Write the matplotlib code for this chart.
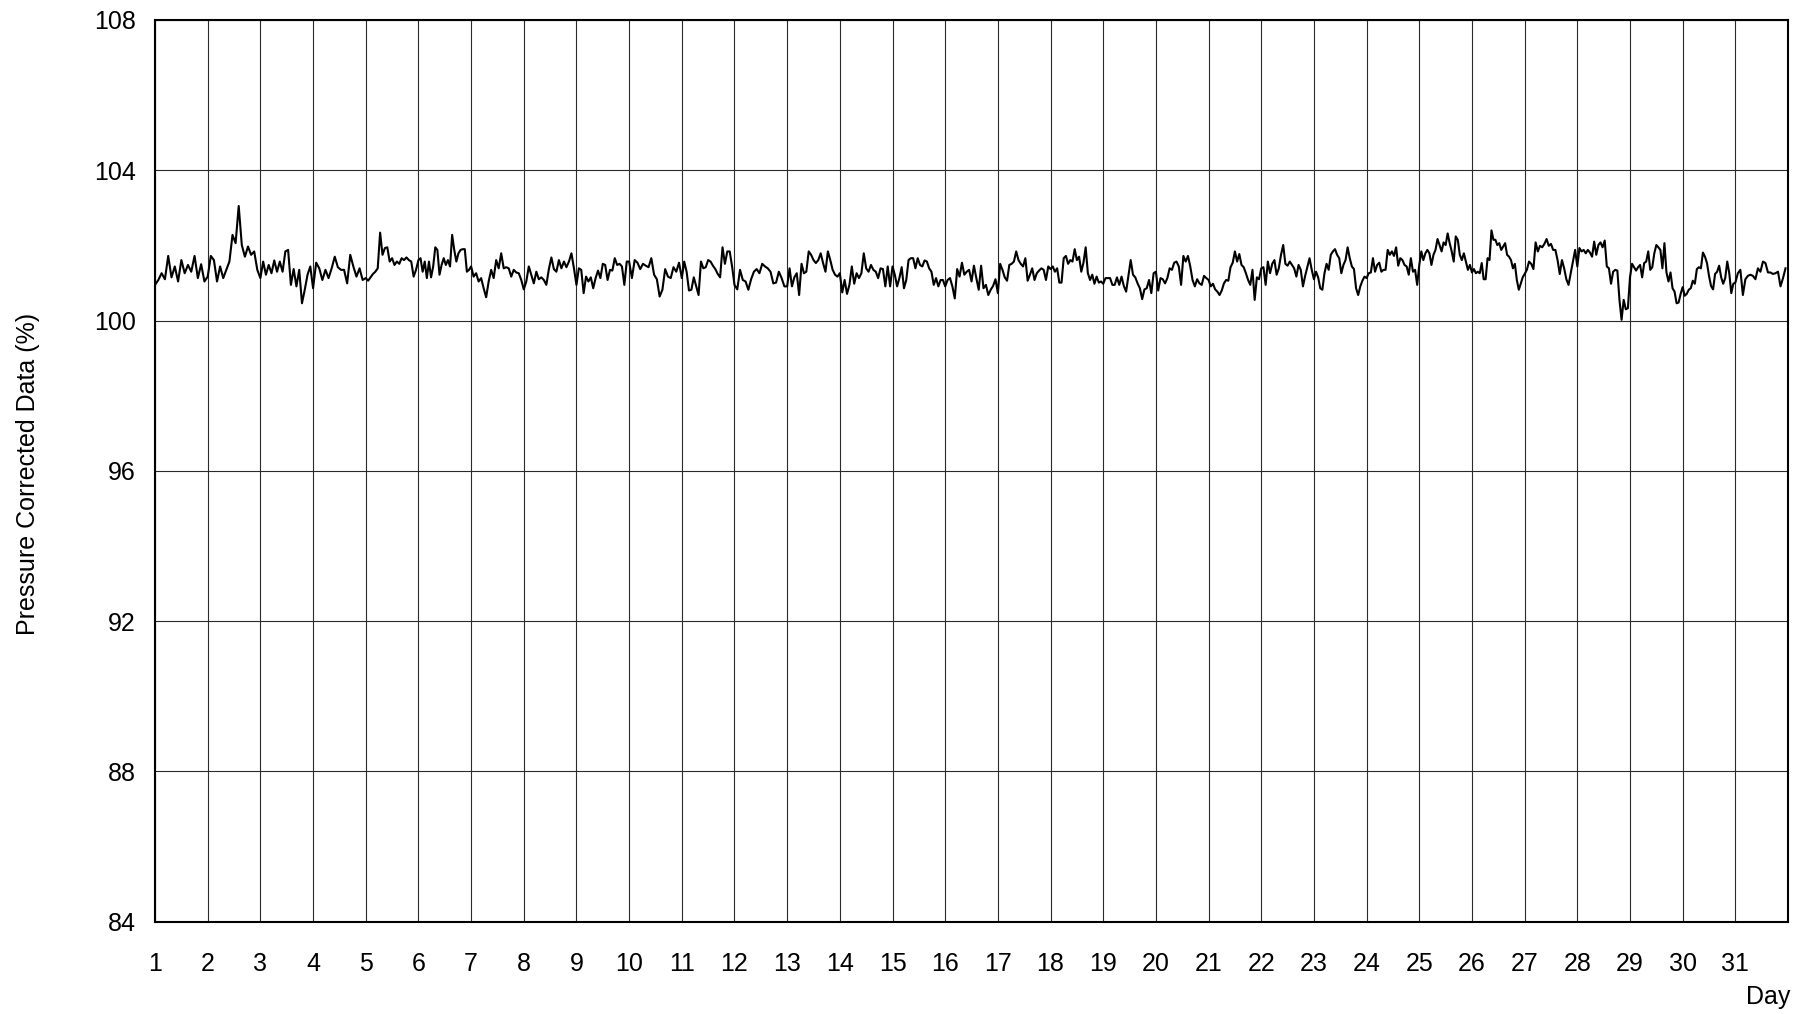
import numpy as np
import matplotlib
matplotlib.use('Agg')
import matplotlib.pyplot as plt

# readings per day, evenly spread through each day (day 1 .. day 31)
day1 = [100.95, 101.08, 101.26, 101.10, 101.72, 101.15, 101.44, 101.04, 101.61, 101.26, 101.48, 101.30, 101.72, 101.13, 101.50, 101.04]
day2 = [101.17, 101.72, 101.61, 101.04, 101.44, 101.13, 101.35, 101.57, 102.28, 102.06, 103.05, 102.01, 101.70, 101.97, 101.75, 101.84, 101.35]
day3 = [101.13, 101.57, 101.22, 101.48, 101.26, 101.60, 101.30, 101.57, 101.30, 101.84, 101.88, 100.95, 101.37, 100.91, 101.35, 100.46, 100.82, 101.22, 101.44]
day4 = [100.86, 101.54, 101.39, 101.08, 101.35, 101.13, 101.39, 101.70, 101.42, 101.35, 101.35, 100.99, 101.75, 101.44, 101.17, 101.39, 101.08]
day5 = [101.13, 101.06, 101.15, 101.24, 101.30, 101.39, 102.34, 101.75, 101.93, 101.95, 101.57, 101.66, 101.48, 101.57, 101.51, 101.66, 101.61, 101.68, 101.61, 101.57, 101.17, 101.35]
day6 = [101.61, 101.66, 101.30, 101.57, 101.13, 101.57, 101.15, 101.44, 101.95, 101.88, 101.22, 101.48, 101.66, 101.48, 101.61, 101.44, 102.28, 101.88, 101.57, 101.79, 101.88, 101.90, 101.90, 101.30, 101.35]
day7 = [101.44, 101.17, 101.26, 101.04, 101.13, 100.86, 100.62, 101.04, 101.35, 101.13, 101.61, 101.39, 101.79, 101.39, 101.42, 101.39, 101.17, 101.35, 101.28, 101.26, 101.08]
day8 = [100.83, 101.04, 101.44, 101.22, 100.99, 101.30, 101.10, 101.15, 101.08, 100.95, 101.37, 101.68, 101.37, 101.30, 101.61, 101.39, 101.57, 101.42, 101.57, 101.79, 101.39]
day9 = [100.95, 101.39, 101.35, 100.73, 101.17, 101.04, 101.15, 100.86, 101.13, 101.33, 101.13, 101.51, 101.48, 101.08, 101.35, 101.33, 101.66, 101.48, 101.51, 101.44, 100.95, 101.57]
day10 = [101.57, 101.13, 101.61, 101.54, 101.37, 101.51, 101.46, 101.42, 101.66, 101.22, 101.10, 100.64, 100.82, 101.37, 101.17, 101.13, 101.42, 101.30, 101.54]
day11 = [101.13, 101.57, 101.30, 100.80, 100.82, 101.15, 100.91, 100.68, 101.57, 101.39, 101.42, 101.61, 101.57, 101.46, 101.37, 101.24, 101.15, 101.95, 101.51, 101.84, 101.84, 101.44]
day12 = [100.95, 100.83, 101.35, 101.08, 101.04, 100.82, 101.10, 101.30, 101.37, 101.26, 101.51, 101.44, 101.39, 101.30, 100.99, 101.01, 101.30, 101.13, 100.91]
day13 = [100.91, 101.39, 100.91, 101.15, 101.26, 100.68, 101.51, 101.26, 101.30, 101.84, 101.75, 101.61, 101.53, 101.61, 101.79, 101.53, 101.30, 101.84, 101.61, 101.35, 101.22, 101.17]
day14 = [101.26, 100.75, 101.08, 100.71, 100.95, 101.44, 100.98, 101.26, 101.13, 101.26, 101.79, 101.39, 101.30, 101.48, 101.35, 101.30, 101.13, 101.39, 101.37, 100.91, 101.44, 100.91]
day15 = [101.44, 101.22, 100.91, 101.13, 101.42, 100.86, 101.08, 101.61, 101.66, 101.66, 101.39, 101.66, 101.48, 101.44, 101.60, 101.57, 101.39, 101.30, 100.95, 101.13, 100.91, 101.08, 101.08]
day16 = [100.91, 101.08, 101.13, 100.91, 100.59, 101.37, 101.17, 101.54, 101.22, 101.30, 101.35, 101.04, 101.46, 101.13, 100.82, 101.46, 100.86, 100.95, 100.68, 100.82, 100.92, 101.10]
day17 = [100.73, 101.51, 101.35, 101.15, 101.06, 101.48, 101.51, 101.57, 101.84, 101.61, 101.51, 101.44, 101.66, 101.06, 101.22, 101.39, 101.08, 101.26, 101.33, 101.39, 101.35, 101.08, 101.44]
day18 = [101.37, 101.44, 101.30, 101.39, 101.01, 101.01, 101.66, 101.72, 101.51, 101.61, 101.57, 101.90, 101.61, 101.70, 101.30, 101.54, 101.95, 101.26, 101.08, 101.22, 100.98, 101.17, 101.01, 101.04]
day19 = [100.98, 101.13, 101.13, 101.13, 100.95, 100.95, 101.15, 100.95, 101.17, 100.92, 100.77, 101.19, 101.61, 101.22, 101.15, 100.99, 100.86, 100.57, 100.83, 100.86, 101.08, 100.73, 101.26]
day20 = [101.30, 100.80, 101.13, 101.10, 100.99, 101.13, 101.39, 101.35, 101.54, 101.57, 101.44, 100.95, 101.72, 101.57, 101.72, 101.44, 101.08, 100.91, 101.10, 100.99, 100.95, 101.19, 101.13]
day21 = [101.08, 100.91, 100.98, 100.83, 100.77, 100.68, 100.80, 100.99, 101.08, 101.06, 101.42, 101.54, 101.84, 101.57, 101.77, 101.48, 101.42, 101.26, 101.08, 100.95, 101.35, 100.55, 101.15, 101.10]
day22 = [101.39, 101.42, 100.95, 101.57, 101.26, 101.51, 101.61, 101.22, 101.39, 101.75, 102.01, 101.51, 101.46, 101.57, 101.48, 101.39, 101.17, 101.48, 101.35, 100.91, 101.19, 101.42, 101.66, 101.35]
day23 = [101.10, 101.30, 101.15, 100.86, 100.82, 101.26, 101.51, 101.35, 101.75, 101.84, 101.90, 101.75, 101.66, 101.26, 101.48, 101.61, 101.95, 101.66, 101.44, 101.37, 100.86, 100.68, 100.91, 101.06, 101.17]
day24 = [101.13, 101.26, 101.28, 101.66, 101.30, 101.48, 101.54, 101.30, 101.35, 101.35, 101.88, 101.75, 101.84, 101.72, 101.95, 101.46, 101.66, 101.61, 101.48, 101.44, 101.22, 101.66, 101.30, 101.35, 100.95]
day25 = [101.48, 101.84, 101.61, 101.79, 101.88, 101.79, 101.48, 101.75, 101.88, 102.17, 102.01, 101.84, 102.08, 102.01, 102.32, 102.06, 101.84, 101.57, 102.24, 102.15, 101.75, 101.61, 101.79, 101.57, 101.35, 101.48]
day26 = [101.28, 101.37, 101.26, 101.30, 101.26, 101.53, 101.10, 101.10, 101.66, 101.61, 102.40, 102.15, 102.15, 102.01, 102.06, 101.88, 101.97, 102.06, 101.75, 101.70, 101.61, 101.39, 101.51, 101.08, 100.82, 100.98, 101.15]
day27 = [101.24, 101.35, 101.57, 101.51, 101.37, 102.08, 101.84, 101.99, 101.95, 102.04, 102.17, 101.99, 102.04, 101.88, 101.88, 101.61, 101.24, 101.61, 101.39, 101.10, 100.95, 101.26, 101.57, 101.88]
day28 = [101.44, 101.93, 101.84, 101.88, 101.79, 101.88, 101.81, 101.70, 102.10, 101.75, 102.01, 102.08, 101.95, 102.13, 101.44, 101.39, 100.98, 101.30, 101.35, 101.33, 100.55, 100.02, 100.55, 100.30, 100.33]
day29 = [101.15, 101.51, 101.42, 101.33, 101.42, 101.48, 101.15, 101.53, 101.57, 101.84, 101.35, 101.42, 101.79, 102.01, 101.95, 101.88, 101.39, 102.06, 101.28, 101.04, 101.28, 100.86, 100.77, 100.46, 100.48, 100.71]
day30 = [100.89, 100.66, 100.71, 100.82, 100.86, 101.06, 100.98, 101.37, 101.42, 101.39, 101.81, 101.70, 101.53, 101.19, 100.92, 100.83, 101.24, 101.30, 101.46, 101.15, 100.98, 101.13, 101.57, 101.26, 100.73, 100.98]
day31 = [101.01, 101.26, 101.35, 100.68, 101.10, 101.19, 101.22, 101.19, 101.10, 101.39, 101.30, 101.57, 101.53, 101.28, 101.28, 101.24, 101.26, 101.30, 100.91, 101.13, 101.39]

days = [day1, day2, day3, day4, day5, day6, day7, day8, day9, day10,
        day11, day12, day13, day14, day15, day16, day17, day18, day19, day20,
        day21, day22, day23, day24, day25, day26, day27, day28, day29, day30, day31]

y_ticks = [84, 88, 92, 96, 100, 104, 108]
x_ticks = list(range(1, 32))

t = []
v = []
for i, vals in enumerate(days):
    n = len(vals)
    t.extend(i + 1 + np.arange(n) / n)
    v.extend(vals)

plt.rcParams['font.family'] = ['Liberation Sans', 'DejaVu Sans']

fig = plt.figure(figsize=(18.07, 10.14), dpi=100)
ax = fig.add_axes([0.0858, 0.0910, 0.9037, 0.8893])

ax.plot(t, v, color='black', linewidth=1.5, zorder=3)

ax.set_xlim(1, 32)
ax.set_ylim(84, 108)
ax.set_xticks(x_ticks)
ax.set_yticks(y_ticks)
ax.grid(True, color='#2a2a2a', linewidth=0.8)
ax.tick_params(length=0, labelsize=18)
ax.tick_params(axis='y', pad=14)
ax.tick_params(axis='x', pad=22)
for s in ax.spines.values():
    s.set_linewidth(1.5)

fig.text(28 / 1807, 1 - 474 / 1014, 'Pressure Corrected Data (%)', fontsize=18,
         rotation=90, ha='center', va='center')
fig.text(1790 / 1807, 1 - 997 / 1014, 'Day', fontsize=18, ha='right', va='center')

fig.savefig('out.png', dpi=100)
